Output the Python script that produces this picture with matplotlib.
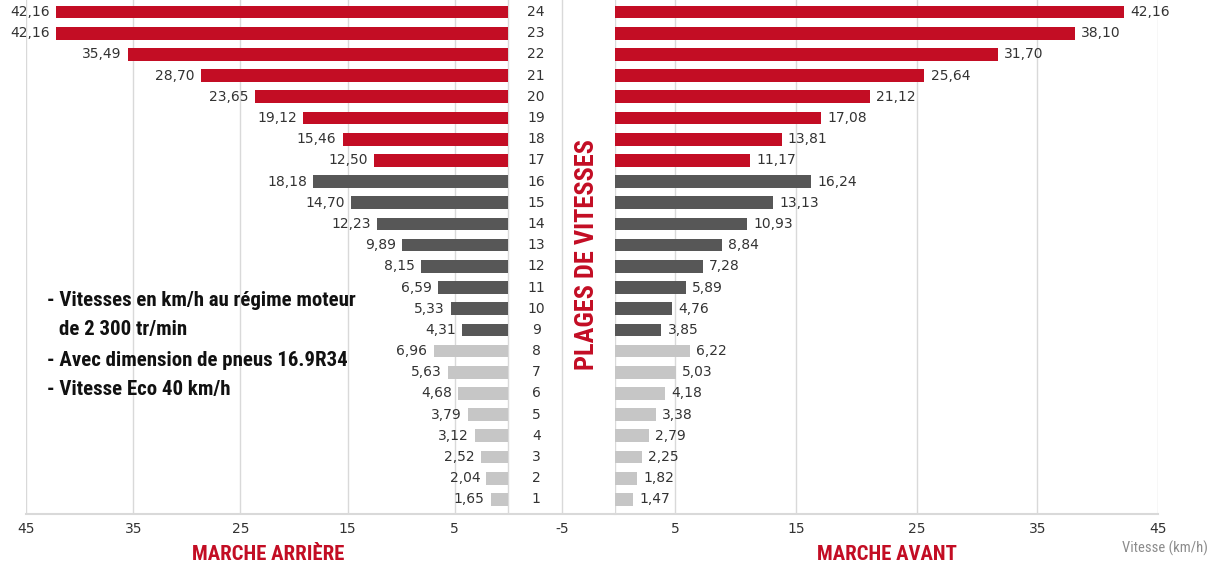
import matplotlib
matplotlib.use("Agg")
import matplotlib.pyplot as plt
from matplotlib import font_manager as fm

# ---- data ----
rapports = list(range(1, 25))
marche_arriere = [1.65, 2.04, 2.52, 3.12, 3.79, 4.68, 5.63, 6.96,
                  4.31, 5.33, 6.59, 8.15, 9.89, 12.23, 14.70, 18.18,
                  12.50, 15.46, 19.12, 23.65, 28.70, 35.49, 42.16, 42.16]
marche_avant = [1.47, 1.82, 2.25, 2.79, 3.38, 4.18, 5.03, 6.22,
                3.85, 4.76, 5.89, 7.28, 8.84, 10.93, 13.13, 16.24,
                11.17, 13.81, 17.08, 21.12, 25.64, 31.70, 38.10, 42.16]
gammes = ["L"] * 8 + ["M"] * 8 + ["H"] * 8
ticks_arriere = [45, 35, 25, 15, 5, -5]
ticks_avant = [5, 15, 25, 35, 45]
notes = ["- Vitesses en km/h au régime moteur",
         "de 2 300 tr/min",
         "- Avec dimension de pneus 16.9R34",
         "- Vitesse Eco 40 km/h"]

RED = "#C30D24"
DARK = "#575757"
LIGHT = "#C6C6C6"
GRID = "#D9D9D9"
TXT = "#333333"
colors = {"L": LIGHT, "M": DARK, "H": RED}
bar_colors = [colors[g] for g in gammes]

names = {f.name for f in fm.fontManager.ttflist}
cond_family = "DejaVu Sans"
for cand in ["Roboto Condensed", "Liberation Sans Narrow", "DejaVu Sans Condensed",
             "Open Sans Condensed", "Roboto", "Lato"]:
    if cand in names:
        cond_family = cand
        break
COND = dict(family=cond_family, weight="bold")

plt.rcParams["font.family"] = ["DejaVu Sans"]

W, H = 1209, 568
fig = plt.figure(figsize=(W / 100, H / 100), dpi=100)

def fx(px):
    return px / W

def fy(py):
    return 1 - py / H

ax_bot = 514
axL = fig.add_axes([fx(26), fy(ax_bot), fx(615 - 26), fy(0) - fy(ax_bot)])
axR = fig.add_axes([fx(615), fy(ax_bot), fx(1158 - 615), fy(0) - fy(ax_bot)])

bh = 0.6
axL.barh(rapports, marche_arriere, height=bh, color=bar_colors, zorder=3)
axR.barh(rapports, marche_avant, height=bh, color=bar_colors, zorder=3)

axL.set_xlim(45, -9.95)
axR.set_xlim(0, 45)
for ax in (axL, axR):
    ax.set_ylim(0.31, 24.57)
    ax.set_yticks([])
    for s in ax.spines.values():
        s.set_visible(False)
    ax.tick_params(axis="x", length=0, pad=6, labelsize=10, labelcolor=TXT)
    ax.axhline(0.31, color=GRID, lw=1.5, zorder=2, clip_on=False)

axL.set_xticks(ticks_arriere)
axL.set_xticklabels([str(t) for t in ticks_arriere])
axR.set_xticks(ticks_avant)
axR.set_xticklabels([str(t) for t in ticks_avant])

for t in ticks_arriere + [0]:
    axL.axvline(t, color=GRID, lw=1, zorder=1)
for t in [0] + ticks_avant:
    axR.axvline(t, color=GRID, lw=1, zorder=1)

def fmt(v):
    return f"{v:.2f}".replace(".", ",")

for r, v in zip(rapports, marche_arriere):
    axL.annotate(fmt(v), (v, r), xytext=(-4.5, 0), textcoords="offset points",
                 ha="right", va="center", fontsize=10, color=TXT, zorder=4)
    axL.text(-2.6, r, str(r), ha="center", va="center", fontsize=10, color=TXT, zorder=4)
for r, v in zip(rapports, marche_avant):
    axR.annotate(fmt(v), (v, r), xytext=(4.5, 0), textcoords="offset points",
                 ha="left", va="center", fontsize=10, color=TXT, zorder=4)

renderer = fig.canvas.get_renderer()

def fit(txt, target_px, size0, vertical=False, maxsize=None):
    bb = txt.get_window_extent(renderer=renderer)
    cur = bb.height if vertical else bb.width
    s = size0 * target_px / cur
    if maxsize:
        s = min(s, maxsize)
    txt.set_fontsize(s)
    return s

# notes
note_y = [301, 330, 360, 389.5]
note_x = [47, 59, 47, 47]
note_objs = []
for (t, x, y) in zip(notes, note_x, note_y):
    note_objs.append(fig.text(fx(x), fy(y), t, ha="left", va="center", fontsize=14,
                              color="#111111", **COND))
s = fit(note_objs[0], 315, 14, maxsize=15)
for o in note_objs:
    o.set_fontsize(s)

p = fig.text(fx(587), fy(255), "PLAGES DE VITESSES", rotation=90, ha="center", va="center",
             fontsize=20, color=RED, **COND)
fit(p, 232, 20, vertical=True, maxsize=21)
m1 = fig.text(fx(268), fy(555), "MARCHE ARRIÈRE", ha="center", va="center",
              fontsize=15, color=RED, **COND)
s2 = fit(m1, 153, 15, maxsize=16)
m2 = fig.text(fx(887), fy(555), "MARCHE AVANT", ha="center", va="center",
              fontsize=s2, color=RED, **COND)
fig.text(fx(1208), fy(548), "Vitesse (km/h)", ha="right", va="center",
         fontsize=10.5, color="#8C8C8C", family=cond_family)

fig.savefig("out.png", dpi=100)
